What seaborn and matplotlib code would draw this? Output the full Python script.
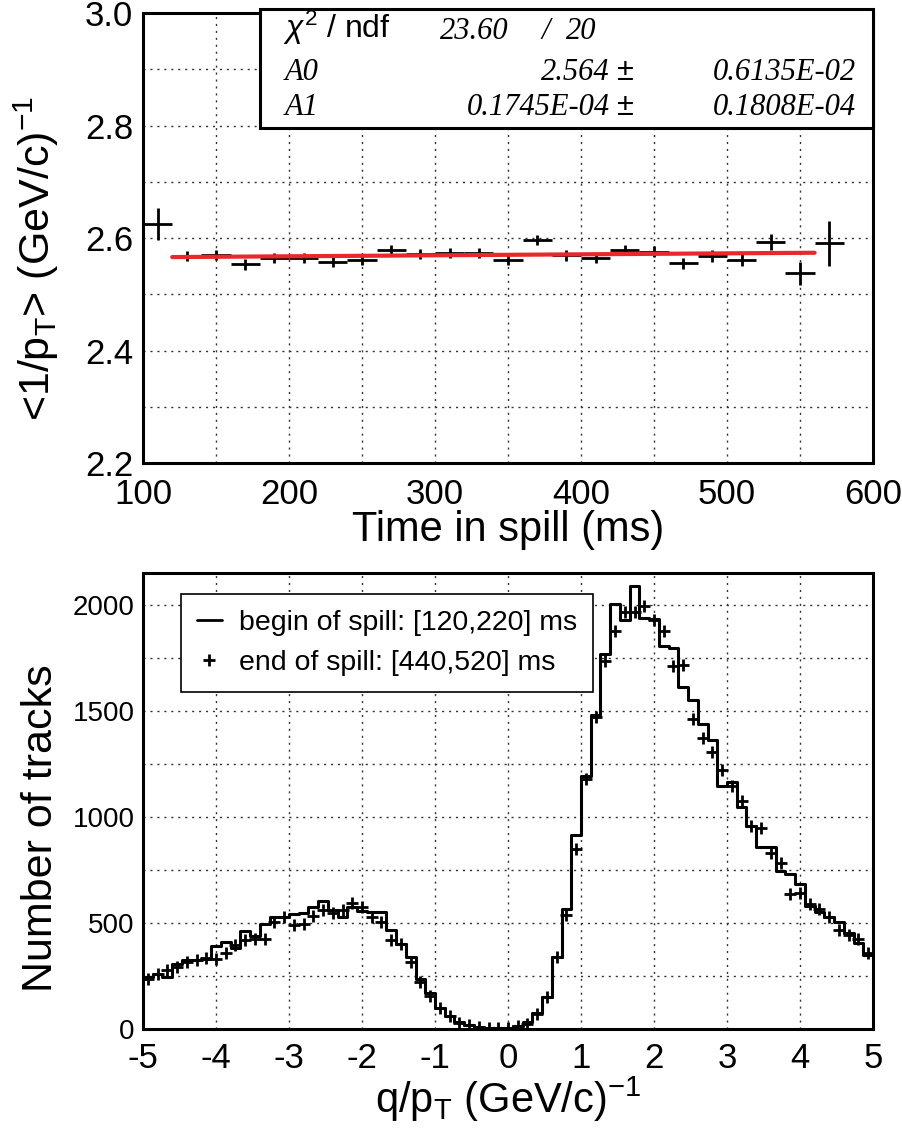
import numpy as np
import pandas as pd
import matplotlib
matplotlib.use("Agg")
import matplotlib.pyplot as plt
import seaborn as sns
from matplotlib.ticker import MultipleLocator
from matplotlib.lines import Line2D
from matplotlib.patches import Rectangle

# ---------------- data: top panel ----------------
time_ms = [110, 130, 150, 170, 190, 210, 230, 250, 270, 290, 310, 330,
           350, 370, 390, 410, 430, 450, 470, 490, 510, 530, 550, 570]
mean_inv_pt = [2.625, 2.568, 2.570, 2.553, 2.565, 2.565, 2.557, 2.561,
               2.578, 2.572, 2.573, 2.573, 2.561, 2.596, 2.569, 2.564,
               2.579, 2.576, 2.555, 2.568, 2.561, 2.593, 2.537, 2.591]
mean_inv_pt_err = [0.028, 0.009, 0.009, 0.009, 0.009, 0.009, 0.009, 0.009,
                   0.009, 0.009, 0.009, 0.009, 0.009, 0.009, 0.009, 0.009,
                   0.009, 0.009, 0.010, 0.010, 0.011, 0.014, 0.021, 0.040]
time_bin_halfwidth = 10
fit_A0 = 2.564
fit_A1 = 0.1745e-04
fit_range = [120, 560]

# ---------------- data: bottom panel ----------------
qpt_min, qpt_max, qpt_nbins = -5.0, 5.0, 75
begin_counts = [247, 258, 247, 306, 325, 325, 330, 390, 411, 380,
                462, 437, 497, 528, 528, 540, 548, 573, 604, 563,
                528, 575, 558, 551, 551, 465, 403, 341, 234, 170,
                98, 59, 31, 17, 9, 5, 3, 3, 15, 31,
                75, 153, 338, 565, 915, 1193, 1481, 1767, 2003, 1929,
                2088, 1937, 1935, 1804, 1798, 1613, 1550, 1439, 1361, 1147,
                1163, 1048, 955, 857, 857, 745, 731, 684, 580, 553,
                530, 506, 451, 404, 349]
end_counts = [234, 258, 278, 290, 315, 325, 337, 330, 356, 395,
              419, 422, 422, 505, 527, 489, 497, 531, 563, 549,
              563, 594, 575, 528, 505, 419, 400, 317, 223, 157,
              98, 59, 28, 17, 10, 5, 3, 4, 12, 25,
              72, 153, 340, 537, 849, 1179, 1473, 1735, 1875, 1966,
              1968, 1996, 1930, 1875, 1711, 1717, 1461, 1371, 1304, 1222,
              1144, 1073, 957, 949, 829, 781, 636, 642, 589, 567,
              530, 466, 444, 425, 358]

legend_labels = ["begin of spill: [120,220] ms", "end of spill: [440,520] ms"]

# ---------------- style ----------------
sns.set_theme(style="white")
plt.rcParams['font.family'] = ['Liberation Sans', 'DejaVu Sans']
plt.rcParams['mathtext.fontset'] = 'custom'
plt.rcParams['mathtext.rm'] = 'Liberation Sans'
plt.rcParams['mathtext.it'] = 'Liberation Sans:italic'
plt.rcParams['mathtext.bf'] = 'Liberation Sans:bold'
for key in ["text.color", "axes.labelcolor", "xtick.color", "ytick.color"]:
    plt.rcParams[key] = "black"

W, H = 903, 1142
fig = plt.figure(figsize=(W / 100, H / 100), dpi=100)
fig.patch.set_facecolor("white")


def fx(px):
    return px / W


def fy(py):
    return 1 - py / H


ax1 = fig.add_axes([fx(143), fy(463), (873 - 143) / W, (463 - 13) / H])
ax2 = fig.add_axes([fx(143), fy(1029), (873 - 143) / W, (1029 - 573) / H])

grid_kw = dict(color="#333333", linestyle=(0, (1.5, 3.5)), linewidth=1.0)


def style_axes(ax):
    for sp in ax.spines.values():
        sp.set_linewidth(2.2)
        sp.set_color("black")
    ax.set_facecolor("white")
    ax.tick_params(which="major", direction="in", length=14, width=2.0,
                   color="black", labelcolor="black", top=False, right=False)
    ax.tick_params(which="minor", direction="in", length=7, width=1.2,
                   color="black", top=False, right=False)
    ax.set_axisbelow(True)


# ---------------- top panel ----------------
style_axes(ax1)
ax1.errorbar(time_ms, mean_inv_pt, xerr=time_bin_halfwidth, yerr=mean_inv_pt_err,
             fmt="none", ecolor="black", elinewidth=2.0, capsize=0, zorder=3)
fit_t = np.array(fit_range, dtype=float)
fit_df = pd.DataFrame({"t": fit_t, "v": fit_A0 + fit_A1 * fit_t})
sns.lineplot(data=fit_df, x="t", y="v", ax=ax1, color="#e8282c",
             linewidth=3.0, zorder=4)
ax1.set_xlim(100, 600)
ax1.set_ylim(2.2, 3.0)
ax1.xaxis.set_minor_locator(MultipleLocator(50))
ax1.yaxis.set_minor_locator(MultipleLocator(0.1))
ax1.set_xticks([100, 200, 300, 400, 500, 600])
ax1.set_xticklabels(["100", "200", "300", "400", "500", "600"])
ax1.set_yticks([2.2, 2.4, 2.6, 2.8, 3.0])
ax1.set_yticklabels(["2.2", "2.4", "2.6", "2.8", "3.0"])
ax1.xaxis.grid(True, which="both", **grid_kw)
ax1.yaxis.grid(True, which="both", **grid_kw)
ax1.tick_params(axis="y", which="major", labelsize=25, pad=7)
ax1.tick_params(axis="x", which="major", labelsize=25, pad=11)
ax1.set_xlabel("Time in spill (ms)", fontsize=30)
ax1.xaxis.set_label_coords(0.5, -0.105)
ax1.set_ylabel(r"<1/p$_\mathregular{T}$> (GeV/c)$^\mathregular{-1}$", fontsize=31)
ax1.yaxis.set_label_coords(-0.112, 0.455)

# stats box
box = Rectangle((fx(260), fy(128)), (873 - 260) / W, (128 - 9) / H,
                transform=fig.transFigure, facecolor="white", edgecolor="black",
                linewidth=2.2, zorder=10)
fig.patches.append(box)
serif_it = dict(family=["Liberation Serif"], style="italic", fontsize=22)
fig.text(fx(283), fy(38), r"$\chi^\mathregular{2}$ / ndf", fontsize=23, va="baseline", ha="left", zorder=11)
fig.text(fx(440), fy(39), "23.60", va="baseline", ha="left", zorder=11, **serif_it)
fig.text(fx(541), fy(39), "/", va="baseline", ha="left", zorder=11, **serif_it)
fig.text(fx(566), fy(39), "20", va="baseline", ha="left", zorder=11, **serif_it)
fig.text(fx(285), fy(80), "A0", va="baseline", ha="left", zorder=11, **serif_it)
fig.text(fx(610), fy(80), "2.564", va="baseline", ha="right", zorder=11, **serif_it)
fig.text(fx(617), fy(80), "±", va="baseline", ha="left", fontsize=22, zorder=11)
fig.text(fx(856), fy(80), "0.6135E-02", va="baseline", ha="right", zorder=11, **serif_it)
fig.text(fx(285), fy(115), "A1", va="baseline", ha="left", zorder=11, **serif_it)
fig.text(fx(610), fy(115), "0.1745E-04", va="baseline", ha="right", zorder=11, **serif_it)
fig.text(fx(617), fy(115), "±", va="baseline", ha="left", fontsize=22, zorder=11)
fig.text(fx(856), fy(115), "0.1808E-04", va="baseline", ha="right", zorder=11, **serif_it)

# ---------------- bottom panel ----------------
style_axes(ax2)
bin_w = (qpt_max - qpt_min) / qpt_nbins
centers = qpt_min + bin_w * (np.arange(qpt_nbins) + 0.5)
hist_df = pd.DataFrame({"qpt": centers, "begin": begin_counts, "end": end_counts})
sns.histplot(data=hist_df, x="qpt", weights="begin", bins=qpt_nbins,
             binrange=(qpt_min, qpt_max), element="step",
             fill=False, color="black", linewidth=2.2, ax=ax2, zorder=3)
ax2.plot(hist_df["qpt"], hist_df["end"], linestyle="none", marker="+", markersize=9,
         markeredgewidth=2.0, color="black", zorder=4)
ax2.set_xlim(qpt_min, qpt_max)
ax2.set_ylim(0, 2150)
ax2.yaxis.set_minor_locator(MultipleLocator(250))
ax2.set_xticks(np.arange(-5, 6, 1))
ax2.set_xticklabels([str(v) for v in range(-5, 6)])
ax2.set_yticks([0, 500, 1000, 1500, 2000])
ax2.set_yticklabels(["0", "500", "1000", "1500", "2000"])
ax2.xaxis.grid(True, which="major", **grid_kw)
ax2.yaxis.grid(True, which="both", **grid_kw)
ax2.tick_params(axis="y", which="minor", length=14, width=2.0)
ax2.tick_params(axis="x", which="major", labelsize=25, pad=9, length=16)
ax2.tick_params(axis="y", which="major", labelsize=20, pad=6)
ax2.set_xlabel(r"q/p$_\mathregular{T}$ (GeV/c)$^\mathregular{-1}$", fontsize=30, labelpad=0)
ax2.set_ylabel("Number of tracks", fontsize=31)
ax2.yaxis.set_label_coords(-0.112, 0.44)

handles = [Line2D([], [], color="black", linewidth=2.0),
           Line2D([], [], color="black", linestyle="none", marker="+",
                  markersize=9, markeredgewidth=2.0)]
leg = ax2.legend(handles, legend_labels, loc="upper left",
                 bbox_to_anchor=((181 - 143) / (873 - 143), 1 - (594 - 573) / (1029 - 573)),
                 fontsize=20.5, frameon=True, fancybox=False, framealpha=1,
                 edgecolor="black", handlelength=0.9, handletextpad=0.6,
                 borderpad=0.55, labelspacing=0.5, borderaxespad=0)
leg.get_frame().set_linewidth(1.2)

fig.savefig("out.png", dpi=100)
